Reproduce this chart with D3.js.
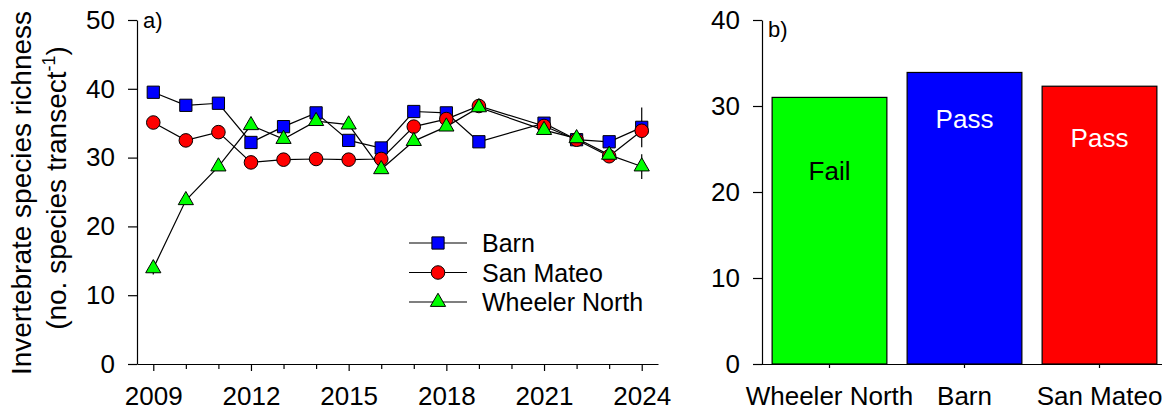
<!DOCTYPE html>
<html>
<head>
<meta charset="utf-8">
<script src="https://cdn.jsdelivr.net/npm/d3@7"></script>
<style>
  body { margin: 0; background: #fff; }
  svg { display: block; font-family: "Liberation Sans", Arial, sans-serif; }
</style>
</head>
<body>
<svg id="chart" width="1162" height="412"></svg>
<script>
// panel a) - yearly species richness (no survey in 2020)
var years = [2009, 2010, 2011, 2012, 2013, 2014, 2015, 2016, 2017, 2018, 2019, 2021, 2022, 2023, 2024];
var barn = [39.5, 37.6, 37.9, 32.2, 34.5, 36.5, 32.5, 31.4, 36.7, 36.5, 32.3, 35.0, 32.6, 32.3, 34.4];
var barnSE = [0.5, 0.4, 0.5, 0.5, 0.5, 0.5, 0.5, 0.6, 0.6, 0.6, 0.6, 0.6, 0.5, 0.5, 2.9];
var sanMateo = [35.1, 32.5, 33.7, 29.3, 29.7, 29.8, 29.7, 29.8, 34.5, 35.6, 37.5, 34.6, 32.6, 30.2, 33.9];
var sanMateoSE = [0.4, 0.4, 0.5, 0.4, 0.4, 0.4, 0.4, 0.5, 0.6, 0.6, 0.6, 0.6, 0.5, 0.5, 0.8];
var wheeler = [13.9, 23.8, 28.7, 34.7, 32.7, 35.3, 34.8, 28.3, 32.4, 34.5, 37.3, 34.0, 32.8, 30.4, 28.7];
var wheelerSE = [0.9, 0.5, 0.5, 0.5, 0.5, 0.5, 0.5, 0.5, 0.5, 0.6, 0.6, 0.5, 0.5, 0.5, 1.8];
var yearTicks = [2009, 2012, 2015, 2018, 2021, 2024];
var richTicks = [0, 10, 20, 30, 40, 50];

// panel b) - mean richness per reef
var reefs = ["Wheeler North", "Barn", "San Mateo"];
var reefMeans = [31.0, 33.9, 32.3];
var verdicts = ["Fail", "Pass", "Pass"];
var verdictAt = [21.4, 27.4, 25.2];   // baseline of the label, in richness units
var meanTicks = [0, 10, 20, 30, 40];

var svg = d3.select("#chart");
var font = 26;

var series = [
  { name: "Barn", values: barn, se: barnSE, color: "#0000ff", symbol: d3.symbolSquare, size: 150 },
  { name: "San Mateo", values: sanMateo, se: sanMateoSE, color: "#ff0000", symbol: d3.symbolCircle, size: 145 },
  { name: "Wheeler North", values: wheeler, se: wheelerSE, color: "#00ff00", symbol: d3.symbolTriangle, size: 100 }
];

// ---------- panel a ----------
var x = d3.scaleLinear().domain([2008.5, 2024.5]).range([137, 658]);
var y = d3.scaleLinear().domain([0, 50]).range([364, 20]);

var gxa = svg.append("g").attr("transform", "translate(0,364)")
  .call(d3.axisBottom(x).tickValues(d3.range(2009, 2025)).tickSize(5).tickSizeOuter(0).tickFormat(""));
gxa.selectAll(".tick line").filter(function(d) { return yearTicks.indexOf(d) >= 0; }).attr("y2", 7);
var gxl = svg.append("g").attr("transform", "translate(0,364)")
  .call(d3.axisBottom(x).tickValues(yearTicks).tickSize(0).tickFormat(d3.format("d")));
gxl.select(".domain").remove();
gxl.selectAll("text").attr("y", 41).attr("dy", 0);

var gya = svg.append("g").attr("transform", "translate(137,0)")
  .call(d3.axisLeft(y).tickValues(richTicks).tickSize(9).tickSizeOuter(0).tickPadding(13));

svg.append("text").attr("x", 143).attr("y", 28).attr("font-size", 22).text("a)");

var line = d3.line().x(function(d) { return x(d[0]); }).y(function(d) { return y(d[1]); });

series.forEach(function(s) {
  svg.append("path")
    .datum(years.map(function(yr, i) { return [yr, s.values[i]]; }))
    .attr("d", line).attr("fill", "none").attr("stroke", "#000").attr("stroke-width", 1.2);
});

series.forEach(function(s) {
  var g = svg.append("g");
  g.selectAll("line").data(years).enter().append("line")
    .attr("x1", function(d) { return x(d); }).attr("x2", function(d) { return x(d); })
    .attr("y1", function(d, i) { return y(s.values[i] - s.se[i]); })
    .attr("y2", function(d, i) { return y(s.values[i] + s.se[i]); })
    .attr("stroke", "#000").attr("stroke-width", 1.2);
  g.selectAll("path").data(years).enter().append("path")
    .attr("d", d3.symbol().type(s.symbol).size(s.size))
    .attr("transform", function(d, i) { return "translate(" + x(d) + "," + y(s.values[i]) + ")"; })
    .attr("fill", s.color).attr("stroke", "#000").attr("stroke-width", 1);
});

// legend
var legend = svg.append("g");
series.forEach(function(s, i) {
  var ly = 243 + i * 29.5;
  legend.append("line").attr("x1", 409).attr("x2", 467).attr("y1", ly).attr("y2", ly)
    .attr("stroke", "#000").attr("stroke-width", 1.2);
  legend.append("path").attr("d", d3.symbol().type(s.symbol).size(s.size))
    .attr("transform", "translate(438," + ly + ")")
    .attr("fill", s.color).attr("stroke", "#000");
  legend.append("text").attr("x", 482).attr("y", ly).attr("dy", "0.36em")
    .attr("font-size", 25).text(s.name);
});

// y title
var title = svg.append("text").attr("transform", "translate(31,193) rotate(-90)")
  .attr("text-anchor", "middle").attr("font-size", 28);
title.append("tspan").attr("x", 0).attr("y", 0).text("Invertebrate species richness");
var t2 = svg.append("text").attr("transform", "translate(66,188) rotate(-90)")
  .attr("text-anchor", "middle").attr("font-size", 28);
t2.append("tspan").text("(no. species transect");
t2.append("tspan").attr("font-size", 18).attr("dy", -11).text("-1");
t2.append("tspan").attr("dy", 11).text(")");

// ---------- panel b ----------
var xb = d3.scaleBand().domain(reefs).range([762, 1167]).paddingInner(0.15).paddingOuter(0.075);
var yb = d3.scaleLinear().domain([0, 40]).range([364, 20]);

svg.selectAll("rect.bar").data(reefs).enter().append("rect")
  .attr("class", "bar")
  .attr("x", function(d) { return xb(d); })
  .attr("width", xb.bandwidth())
  .attr("y", function(d, i) { return yb(reefMeans[i]); })
  .attr("height", function(d, i) { return yb(0) - yb(reefMeans[i]); })
  .attr("fill", function(d, i) { return series[[2, 0, 1][i]].color; })
  .attr("stroke", "#000").attr("stroke-width", 1.2);

svg.selectAll("text.verdict").data(reefs).enter().append("text")
  .attr("class", "verdict")
  .attr("x", function(d) { return xb(d) + xb.bandwidth() / 2; })
  .attr("y", function(d, i) { return yb(verdictAt[i]); })
  .attr("text-anchor", "middle").attr("font-size", font)
  .attr("fill", function(d, i) { return i === 0 ? "#000" : "#fff"; })
  .text(function(d, i) { return verdicts[i]; });

var gxb = svg.append("g").attr("transform", "translate(0,364)")
  .call(d3.axisBottom(xb).tickSize(4).tickSizeOuter(0));
gxb.select(".domain").attr("d", "M753,0.5H1162");
gxb.selectAll("text").attr("y", 41).attr("dy", 0);

var gyb = svg.append("g").attr("transform", "translate(762,0)")
  .call(d3.axisLeft(yb).tickValues(meanTicks).tickSize(9).tickSizeOuter(0).tickPadding(13));

svg.append("text").attr("x", 768).attr("y", 37).attr("font-size", 22).text("b)");

svg.selectAll(".tick text").attr("font-size", font).attr("font-family", "Liberation Sans, Arial, sans-serif").attr("fill", "#000");
svg.selectAll(".domain, .tick line").attr("stroke", "#000").attr("stroke-width", 1.2);
</script>
</body>
</html>
